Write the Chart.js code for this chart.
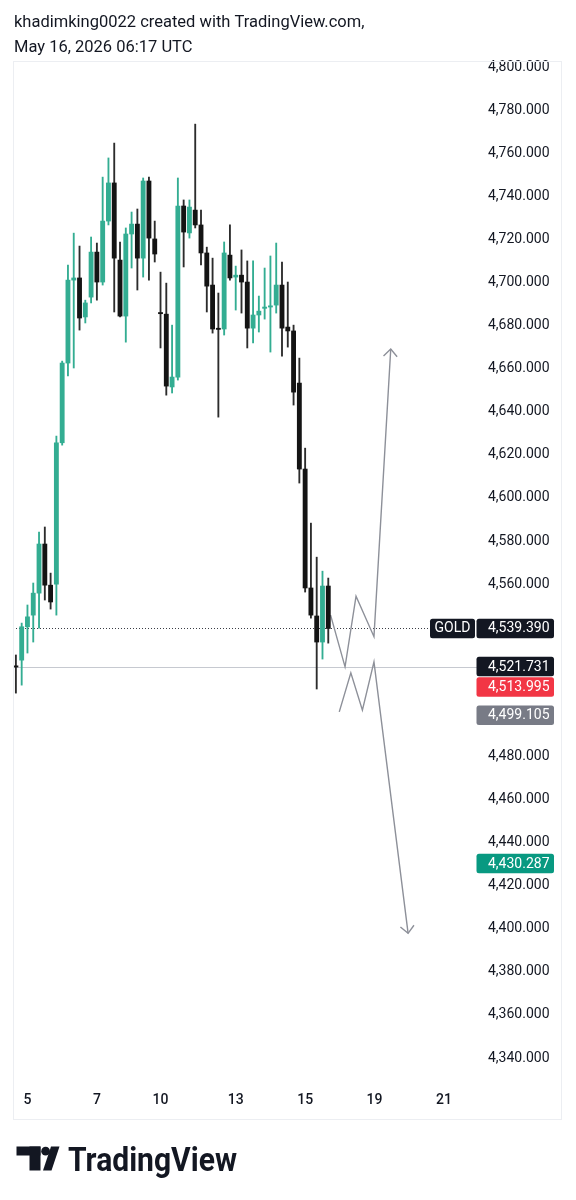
<!DOCTYPE html>
<html lang="en">
<head>
<meta charset="UTF-8">
<title>GOLD 4H</title>
<script src="https://cdn.jsdelivr.net/npm/chart.js"></script>
<style>
  html, body { margin: 0; padding: 0; background: #fff; overflow: hidden; }
  #wrap { position: relative; width: 576px; height: 1200px; }
</style>
</head>
<body>
<div id="wrap"><canvas id="chart"></canvas></div>
<script>
// GOLD, 4h candles, May 5 - May 15
const opens = [4522.0, 4524.7, 4540.2, 4545.6, 4555.8, 4578.6, 4559.5, 4560.0, 4625.6, 4662.6,
               4701.1, 4702.1, 4684.0, 4693.2, 4714.1, 4700.2, 4728.5, 4746.2, 4710.4, 4684.4,
               4722.5, 4727.1, 4711.3, 4747.1, 4720.2, 4685.8, 4685.3, 4651.5, 4656.1, 4735.5,
               4723.0, 4733.6, 4726.7, 4713.7, 4698.8, 4678.4, 4678.4, 4712.7, 4702.5, 4703.4,
               4700.2, 4678.8, 4684.9, 4688.0, 4688.6, 4689.5, 4698.8, 4679.3, 4677.5, 4653.3,
               4613.4, 4558.2, 4545.2, 4533.1, 4559.1];
const highs = [4527.1, 4541.9, 4550.3, 4560.5, 4584.1, 4586.5, 4565.1, 4628.7, 4663.5, 4708.1,
               4722.9, 4716.9, 4691.8, 4721.1, 4718.3, 4748.9, 4757.8, 4764.7, 4718.8, 4725.3,
               4732.7, 4734.1, 4748.5, 4748.9, 4728.5, 4704.8, 4699.7, 4680.2, 4748.5, 4738.3,
               4738.3, 4773.5, 4733.6, 4716.4, 4711.3, 4695.1, 4718.8, 4726.7, 4707.6, 4715.1,
               4710.0, 4710.0, 4693.7, 4706.7, 4712.3, 4718.3, 4709.5, 4700.2, 4680.2, 4664.9,
               4623.1, 4588.3, 4572.5, 4566.0, 4562.8];
const lows = [4509.4, 4513.1, 4528.0, 4533.1, 4539.6, 4552.6, 4548.4, 4545.6, 4624.5, 4656.6,
              4660.3, 4677.9, 4681.2, 4690.5, 4691.8, 4698.8, 4726.7, 4686.3, 4684.0, 4672.3,
              4706.7, 4696.5, 4702.5, 4701.1, 4709.5, 4669.6, 4647.7, 4648.7, 4654.7, 4707.2,
              4720.6, 4725.3, 4708.1, 4686.3, 4676.5, 4637.5, 4675.6, 4701.1, 4687.2, 4685.8,
              4669.6, 4671.9, 4677.0, 4683.0, 4667.7, 4685.8, 4665.8, 4670.0, 4643.1, 4606.9,
              4556.3, 4544.2, 4511.3, 4525.2, 4532.6];
const closes = [4521.5, 4540.2, 4544.8, 4555.8, 4578.6, 4559.5, 4551.7, 4625.6, 4662.6, 4701.1,
                4702.1, 4683.5, 4690.5, 4714.1, 4700.2, 4728.5, 4746.2, 4711.3, 4684.4, 4722.5,
                4727.1, 4711.3, 4747.1, 4720.6, 4713.2, 4685.5, 4651.9, 4656.1, 4735.5, 4723.4,
                4735.0, 4726.7, 4713.7, 4698.3, 4678.4, 4678.2, 4713.7, 4702.1, 4703.4, 4700.2,
                4678.8, 4684.9, 4686.7, 4688.6, 4689.0, 4698.8, 4678.8, 4677.5, 4649.1, 4613.4,
                4558.2, 4545.6, 4533.1, 4559.1, 4539.39];

// time axis: bar slots incl. empty future space, and the day labels
const slotCount = 79;
const tickIndex = [2, 14, 25, 38, 50, 62, 74];
const tickText = ['5', '7', '10', '13', '15', '19', '21'];

// price axis
const yTicks = [4340, 4360, 4380, 4400, 4420, 4440, 4460, 4480, 4500, 4520, 4540, 4560,
                4580, 4600, 4620, 4640, 4660, 4680, 4700, 4720, 4740, 4760, 4780, 4800];
const yMin = 4327.5, yMax = 4802.8;

// drawn projection paths (slot index, price)
const upPathX = [54.4, 56.9, 58.8, 61.9, 64.8];
const upPathY = [4545.6, 4521.6, 4554.4, 4535.6, 4669.1];
const downPathX = [55.9, 57.9, 59.9, 61.9, 67.8];
const downPathY = [4500.7, 4518.8, 4501.5, 4523.9, 4397.9];

// price marks on the right axis
const lastPrice = 4539.39;
const refLine = 4521.731;
const markValues = [4539.39, 4521.731, 4513.995, 4499.105, 4430.287];
const markColors = ['#131722', '#131722', '#f23645', '#787b86', '#089981'];

const UP = '#33ad92', DOWN = '#141414', DOWN_WICK = '#2c2c2c';
const FONT = 'Roboto, "Noto Sans", sans-serif';

const xLabels = Array.from({ length: slotCount }, (_, i) => {
    const k = tickIndex.indexOf(i);
    return k >= 0 ? tickText[k] : '';
});
const isUp = closes.map((c, i) => c >= opens[i]);
const fmt = v => v.toLocaleString('en-US', { minimumFractionDigits: 3, maximumFractionDigits: 3 });

function rrect(ctx, x, y, w, h, r) {
    ctx.beginPath();
    ctx.moveTo(x + r, y);
    ctx.lineTo(x + w - r, y); ctx.quadraticCurveTo(x + w, y, x + w, y + r);
    ctx.lineTo(x + w, y + h - r); ctx.quadraticCurveTo(x + w, y + h, x + w - r, y + h);
    ctx.lineTo(x + r, y + h); ctx.quadraticCurveTo(x, y + h, x, y + h - r);
    ctx.lineTo(x, y + r); ctx.quadraticCurveTo(x, y, x + r, y);
    ctx.closePath();
}

const decor = {
    id: 'decor',
    beforeDatasetsDraw(chart) {
        const { ctx, chartArea, scales: { y } } = chart;
        ctx.save();
        let py = Math.round(y.getPixelForValue(refLine)) + 0.5;
        ctx.strokeStyle = '#c6c9d0';
        ctx.lineWidth = 1;
        ctx.beginPath(); ctx.moveTo(chartArea.left, py); ctx.lineTo(477, py); ctx.stroke();
        py = Math.round(y.getPixelForValue(lastPrice)) + 0.5;
        ctx.setLineDash([1, 2]);
        ctx.strokeStyle = '#3a3d45';
        ctx.beginPath(); ctx.moveTo(chartArea.left, py); ctx.lineTo(430, py); ctx.stroke();
        ctx.restore();
    },
    afterDraw(chart) {
        const { ctx, scales: { y, x2 } } = chart;
        ctx.save();

        // frame
        ctx.strokeStyle = '#eceef2';
        ctx.lineWidth = 1;
        ctx.strokeRect(13.5, 61.5, 548, 1058);

        // header
        ctx.fillStyle = '#131722';
        ctx.font = '16.5px ' + FONT;
        ctx.textBaseline = 'alphabetic';
        ctx.textAlign = 'left';
        ctx.fillText('khadimking0022 created with TradingView.com,', 14, 26.5);
        ctx.fillText('May 16, 2026 06:17 UTC', 14, 52);

        // arrow heads at the end of both paths
        ctx.strokeStyle = '#8d9099';
        ctx.lineWidth = 1.4;
        [[upPathX, upPathY], [downPathX, downPathY]].forEach(([px, pv]) => {
            const n = px.length;
            const x1 = x2.getPixelForValue(px[n - 2]), y1 = y.getPixelForValue(pv[n - 2]);
            const xe = x2.getPixelForValue(px[n - 1]), ye = y.getPixelForValue(pv[n - 1]);
            const a = Math.atan2(ye - y1, xe - x1);
            ctx.beginPath();
            ctx.moveTo(xe - 10 * Math.cos(a - 0.75), ye - 10 * Math.sin(a - 0.75));
            ctx.lineTo(xe, ye);
            ctx.lineTo(xe - 10 * Math.cos(a + 0.75), ye - 10 * Math.sin(a + 0.75));
            ctx.stroke();
        });

        // price marks with simple collision push-down
        const h = 19.5;
        let prevBottom = -1e9;
        ctx.font = '14px ' + FONT;
        ctx.textBaseline = 'middle';
        markValues.forEach((v, i) => {
            let cy = y.getPixelForValue(v);
            if (cy - h / 2 < prevBottom + 1) cy = prevBottom + 1 + h / 2;
            prevBottom = cy + h / 2;
            ctx.fillStyle = markColors[i];
            rrect(ctx, 476.5, cy - h / 2, 77.5, h, 2.5);
            ctx.fill();
            ctx.fillStyle = '#ffffff';
            ctx.textAlign = 'left';
            ctx.fillText(fmt(v), 488, cy + 0.5);
            if (i === 0) {
                ctx.fillStyle = '#131722';
                rrect(ctx, 430, cy - h / 2, 45, h, 2.5);
                ctx.fill();
                ctx.fillStyle = '#ffffff';
                ctx.textAlign = 'center';
                ctx.fillText('GOLD', 452.5, cy + 0.5);
            }
        });

        // TradingView logo
        const ly = 1146.5;
        ctx.fillStyle = '#131722';
        ctx.fillRect(16.5, ly, 24, 9);
        ctx.fillRect(29.5, ly, 11, 24);
        ctx.beginPath(); ctx.arc(45.6, ly + 4.7, 4.4, 0, Math.PI * 2); ctx.fill();
        ctx.beginPath();
        ctx.moveTo(51, ly); ctx.lineTo(59.5, ly); ctx.lineTo(51.5, ly + 24); ctx.lineTo(43, ly + 24);
        ctx.closePath(); ctx.fill();
        ctx.font = '700 33px ' + FONT;
        ctx.textBaseline = 'alphabetic';
        ctx.textAlign = 'left';
        const w = ctx.measureText('TradingView').width;
        ctx.translate(68, ly + 24);
        ctx.scale(Math.min(1, 169 / w), 1);
        ctx.fillText('TradingView', 0, 0);

        ctx.restore();
    }
};

new Chart(document.getElementById('chart'), {
    type: 'bar',
    data: {
        labels: xLabels,
        datasets: [
            {
                type: 'line', xAxisID: 'x2', order: 3,
                data: upPathX.map((v, i) => ({ x: v, y: upPathY[i] })),
                borderColor: '#8d9099', borderWidth: 1.4, pointRadius: 0, tension: 0
            },
            {
                type: 'line', xAxisID: 'x2', order: 3,
                data: downPathX.map((v, i) => ({ x: v, y: downPathY[i] })),
                borderColor: '#8d9099', borderWidth: 1.4, pointRadius: 0, tension: 0
            },
            {
                label: 'wicks', order: 2, grouped: false, barThickness: 1.2,
                data: lows.map((l, i) => [l, highs[i]]),
                backgroundColor: isUp.map(u => u ? UP : DOWN_WICK)
            },
            {
                label: 'bodies', order: 1, grouped: false, barThickness: 4.2, minBarLength: 1.2,
                data: opens.map((o, i) => [o, closes[i]]),
                backgroundColor: isUp.map(u => u ? UP : DOWN)
            }
        ]
    },
    options: {
        responsive: true,
        maintainAspectRatio: false,
        animation: false,
        events: [],
        layout: { padding: { left: 13, right: 14, top: 61, bottom: 81 } },
        plugins: { legend: { display: false }, tooltip: { enabled: false } },
        scales: {
            x: {
                grid: { display: false, drawTicks: false },
                border: { display: false },
                ticks: {
                    autoSkip: false, maxRotation: 0, padding: 7,
                    color: '#131722', font: { family: FONT, size: 14, weight: '500' }
                },
                afterFit(s) { s.height = 34; }
            },
            x2: {
                type: 'linear', display: false, offset: false, bounds: 'ticks',
                min: -0.5, max: slotCount - 0.5
            },
            y: {
                position: 'right',
                min: yMin, max: yMax,
                grid: { display: false, drawTicks: false },
                border: { display: false },
                afterBuildTicks(s) { s.ticks = yTicks.map(v => ({ value: v })); },
                ticks: {
                    padding: 18, color: '#131722',
                    font: { family: FONT, size: 14 },
                    callback: v => fmt(v)
                },
                afterFit(s) { s.width = 92; }
            }
        }
    },
    plugins: [decor]
});
</script>
</body>
</html>
